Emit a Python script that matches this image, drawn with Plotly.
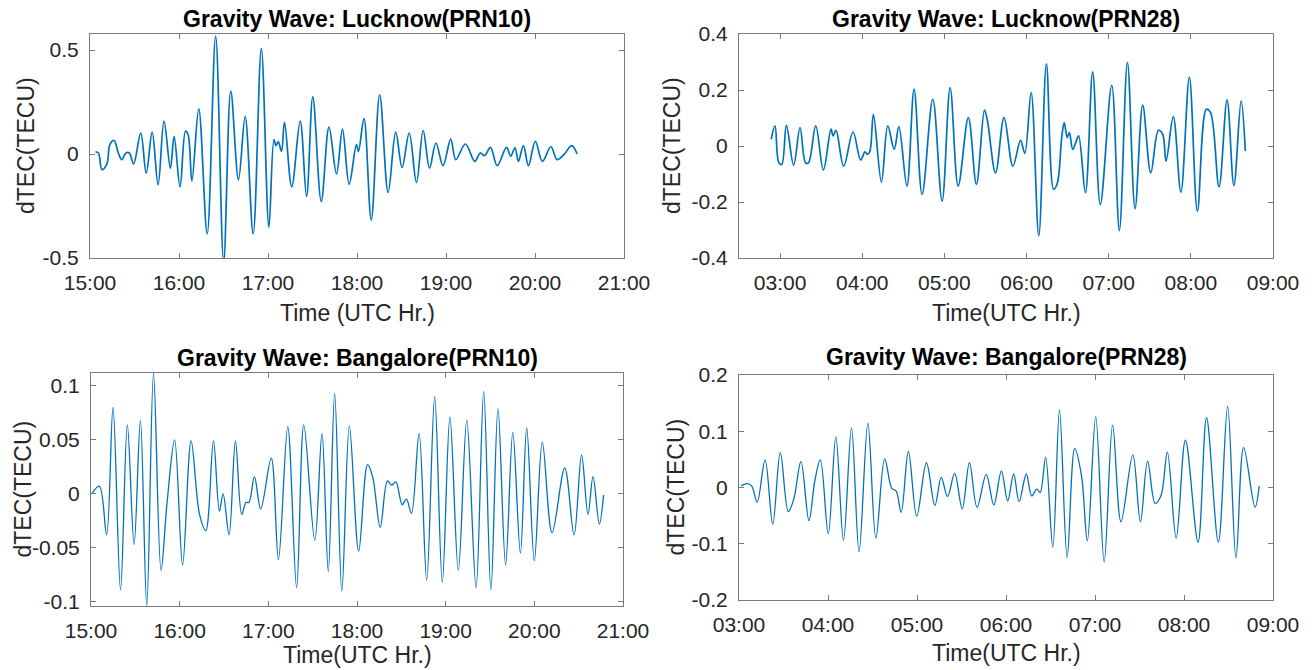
import plotly.graph_objects as go

W, H = 1312, 670

# ---------------- data ----------------
# Lucknow PRN10: minutes after 15:00 and dTEC
lk10_min = [3.7, 5.7, 8.0, 11.4, 13.4, 16.2, 19.1, 21.4, 24.2, 26.5,
            29.4, 34.2, 37.9, 41.9, 45.9, 49.9, 54.2, 56.7, 60.7, 64.4,
            66.1, 68.7, 73.3, 79.0, 84.7, 90.1, 94.9, 100.1, 104.6, 110.0,
            115.5, 120.6, 124.0, 125.4, 126.9, 129.1, 131.1, 136.0, 141.7, 146.0,
            150.2, 155.9, 161.1, 166.2, 170.2, 174.7, 179.6, 181.0, 184.7, 189.6,
            195.3, 201.0, 206.1, 210.4, 215.2, 220.1, 224.6, 228.9, 233.2, 238.0,
            243.2, 246.6, 253.1, 259.4, 263.1, 266.0, 270.0, 274.5, 280.8, 283.6,
            286.5, 288.8, 292.2, 295.6, 300.2, 305.0, 310.7, 315.0, 319.8, 324.7,
            328.4]
lk10_val = [0.01, 0.005, -0.075, -0.047, 0.045, 0.065, 0.005, -0.027, 0.005, 0.005,
            -0.048, 0.10, -0.092, 0.105, -0.148, 0.158, -0.068, 0.085, -0.158, 0.11,
            0.095, -0.13, 0.217, -0.384, 0.567, -0.518, 0.302, -0.124, 0.18, -0.384,
            0.508, -0.352, 0.069, 0.04, 0.06, 0.013, 0.154, -0.158, 0.158, -0.204,
            0.275, -0.228, 0.129, -0.096, 0.12, -0.145, 0.045, 0.013, 0.17, -0.317,
            0.285, -0.185, 0.105, -0.064, 0.101, -0.137, 0.113, -0.068, 0.053, -0.056,
            0.072, -0.027, 0.048, -0.035, 0.005, -0.008, 0.032, -0.056, 0.032, -0.01,
            0.03, -0.035, 0.04, -0.056, 0.061, -0.035, 0.035, -0.027, 0.0, 0.04,
            0.0]

# Lucknow PRN28: UTC hour and dTEC
lk28_hr = [2.892, 2.938, 2.985, 3.021, 3.077, 3.165, 3.243, 3.310, 3.346, 3.434,
           3.527, 3.620, 3.645, 3.681, 3.774, 3.888, 3.981, 4.033, 4.064, 4.094,
           4.136, 4.234, 4.311, 4.389, 4.446, 4.544, 4.631, 4.729, 4.859, 4.972,
           5.070, 5.168, 5.292, 5.390, 5.488, 5.524, 5.623, 5.726, 5.834, 5.927,
           5.979, 6.056, 6.149, 6.242, 6.330, 6.376, 6.428, 6.459, 6.495, 6.521,
           6.562, 6.598, 6.634, 6.717, 6.805, 6.898, 7.037, 7.130, 7.228, 7.321,
           7.414, 7.512, 7.605, 7.657, 7.698, 7.786, 7.879, 7.982, 8.080, 8.188,
           8.240, 8.343, 8.441, 8.524, 8.612, 8.663]
lk28_val = [0.024, 0.072, -0.06, -0.066, 0.074, -0.069, 0.066, -0.06, -0.06, 0.072,
            -0.086, 0.06, 0.036, 0.056, -0.072, 0.05, -0.05, -0.021, -0.030, -0.018,
            0.113, -0.129, 0.072, -0.012, 0.069, -0.143, 0.203, -0.173, 0.167, -0.197,
            0.209, -0.143, 0.101, -0.137, 0.128, 0.09, -0.096, 0.101, -0.072, 0.02,
            -0.026, 0.191, -0.32, 0.293, -0.155, -0.131, 0.030, 0.084, 0.030, 0.048,
            -0.012, 0.012, 0.036, -0.167, 0.265, -0.209, 0.217, -0.302, 0.299, -0.224,
            0.146, -0.096, 0.056, 0.042, -0.054, 0.105, -0.165, 0.245, -0.233, 0.131,
            0.119, -0.146, 0.165, -0.141, 0.161, -0.018]

# Bangalore PRN10: UTC hour and dTEC
bg10_hr = [15.010, 15.095, 15.176, 15.248, 15.333, 15.410, 15.486, 15.557, 15.629, 15.705,
           15.790, 15.857, 15.943, 16.033, 16.129, 16.224, 16.295, 16.381, 16.448, 16.490,
           16.557, 16.629, 16.700, 16.748, 16.781, 16.843, 16.914, 17.033, 17.114, 17.219,
           17.319, 17.400, 17.524, 17.605, 17.676, 17.748, 17.829, 17.914, 18.019, 18.119,
           18.176, 18.262, 18.343, 18.390, 18.438, 18.510, 18.557, 18.614, 18.700, 18.786,
           18.876, 18.962, 19.048, 19.143, 19.238, 19.343, 19.429, 19.510, 19.590, 19.676,
           19.757, 19.843, 19.914, 20.000, 20.090, 20.200, 20.343, 20.448, 20.533, 20.605,
           20.662, 20.733, 20.781]
bg10_val = [0, 0.007, -0.038, 0.080, -0.089, 0.064, -0.047, 0.068, -0.104, 0.112,
            -0.071, -0.009, 0.050, -0.066, 0.049, -0.019, -0.034, 0.049, -0.016, 0.0,
            -0.038, 0.049, -0.019, -0.008, -0.008, 0.016, -0.014, 0.033, -0.061, 0.062,
            -0.087, 0.064, -0.043, 0.056, -0.072, 0.093, -0.090, 0.063, -0.053, 0.027,
            0.016, -0.031, 0.012, 0.008, 0.011, -0.010, -0.005, -0.018, 0.056, -0.080,
            0.090, -0.082, 0.071, -0.071, 0.068, -0.087, 0.095, -0.089, 0.079, -0.066,
            0.057, -0.055, 0.061, -0.062, 0.048, -0.036, 0.024, -0.038, 0.036, -0.019,
            0.016, -0.028, -0.001]

# Bangalore PRN28: UTC hour and dTEC
bg28_hr = [3.024, 3.095, 3.142, 3.204, 3.293, 3.379, 3.464, 3.554, 3.615, 3.696,
           3.786, 3.852, 3.914, 4.003, 4.088, 4.174, 4.264, 4.349, 4.448, 4.538,
           4.637, 4.718, 4.765, 4.822, 4.903, 4.997, 5.106, 5.201, 5.272, 5.343,
           5.423, 5.508, 5.589, 5.674, 5.778, 5.863, 5.948, 6.019, 6.086, 6.147,
           6.228, 6.289, 6.346, 6.384, 6.445, 6.526, 6.601, 6.687, 6.772, 6.848,
           6.914, 7.008, 7.103, 7.198, 7.292, 7.425, 7.510, 7.591, 7.676, 7.742,
           7.813, 7.912, 8.016, 8.158, 8.253, 8.386, 8.490, 8.584, 8.670, 8.798,
           8.845]
bg28_val = [0.003, 0.007, 0.003, -0.026, 0.049, -0.065, 0.062, -0.043, -0.021, 0.046,
            -0.059, 0.012, 0.049, -0.082, 0.090, -0.094, 0.106, -0.114, 0.114, -0.090,
            0.051, -0.002, -0.006, -0.044, 0.064, -0.051, 0.044, -0.032, 0.018, -0.016,
            0.025, -0.038, 0.044, -0.035, 0.023, -0.031, 0.029, -0.024, 0.024, -0.025,
            0.024, -0.015, -0.003, -0.009, 0.054, -0.106, 0.138, -0.124, 0.069, 0.021,
            -0.095, 0.126, -0.132, 0.111, -0.061, 0.058, -0.061, 0.047, -0.028, -0.014,
            0.063, -0.090, 0.084, -0.097, 0.124, -0.097, 0.144, -0.125, 0.071, -0.035,
            0.003]

titles = ["Gravity Wave: Lucknow(PRN10)", "Gravity Wave: Lucknow(PRN28)",
          "Gravity Wave: Bangalore(PRN10)", "Gravity Wave: Bangalore(PRN28)"]
xlabels = ["Time (UTC Hr.)", "Time(UTC Hr.)", "Time(UTC Hr.)", "Time(UTC Hr.)"]
ylabel = "dTEC(TECU)"

eve_ticks = [15, 16, 17, 18, 19, 20, 21]
eve_labels = ["15:00", "16:00", "17:00", "18:00", "19:00", "20:00", "21:00"]
mor_ticks = [3, 4, 5, 6, 7, 8, 9]
mor_labels = ["03:00", "04:00", "05:00", "06:00", "07:00", "08:00", "09:00"]

lk10_yt = [-0.5, 0, 0.5]
lk10_yl = ["-0.5", "0", "0.5"]
lk28_yt = [-0.4, -0.2, 0, 0.2, 0.4]
lk28_yl = ["-0.4", "-0.2", "0", "0.2", "0.4"]
bg10_yt = [-0.1, -0.05, 0, 0.05, 0.1]
bg10_yl = ["-0.1", "-0.05", "0", "0.05", "0.1"]
bg28_yt = [-0.2, -0.1, 0, 0.1, 0.2]
bg28_yl = ["-0.2", "-0.1", "0", "0.1", "0.2"]

# ---------------- layout geometry (pixels) ----------------
boxes = [  # x0, x1, y0(top), y1(bottom)
    (90, 624, 34, 258),
    (739, 1273, 34, 258),
    (91, 623, 373, 606),
    (739, 1273, 375, 600),
]
xranges = [[15, 21], [2.5, 9], [15, 21], [3, 9]]
yranges = [[-0.5, 0.577], [-0.4, 0.4], [-0.104, 0.112], [-0.2, 0.2]]
title_y = [19, 19, 358, 357]
xlab_y = [313, 313, 655, 653]
ylab_x = [26, 672, 22, 675]

LINE = "#0072BD"
FONT = "Liberation Sans, Arial, Helvetica, sans-serif"
AX = "#7a7a7a"
TXT = "#262626"

fig = go.Figure()
series = [
    ([15 + m / 60 for m in lk10_min], lk10_val, 1.7),
    (lk28_hr, lk28_val, 1.7),
    (bg10_hr, bg10_val, 1.3),
    (bg28_hr, bg28_val, 1.3),
]
for i, (xs, ys, lw) in enumerate(series):
    sfx = "" if i == 0 else str(i + 1)
    fig.add_trace(go.Scatter(x=xs, y=ys, mode="lines",
                             line=dict(color=LINE, width=lw, shape="spline", smoothing=1.0),
                             xaxis="x" + sfx, yaxis="y" + sfx, showlegend=False,
                             hoverinfo="skip"))

xt = [(eve_ticks, eve_labels), (mor_ticks, mor_labels), (eve_ticks, eve_labels), (mor_ticks, mor_labels)]
yt = [(lk10_yt, lk10_yl), (lk28_yt, lk28_yl), (bg10_yt, bg10_yl), (bg28_yt, bg28_yl)]

layout = dict(width=W, height=H, autosize=False, margin=dict(l=0, r=0, t=0, b=0, pad=0),
              paper_bgcolor="white", plot_bgcolor="white", showlegend=False)
annotations = []
for i, (x0, x1, y0, y1) in enumerate(boxes):
    sfx = "" if i == 0 else str(i + 1)
    common = dict(showline=True, linecolor=AX, linewidth=1, mirror="ticks", ticks="inside",
                  ticklen=5, tickwidth=1, tickcolor=AX, showgrid=False, zeroline=False,
                  automargin=False,
                  tickfont=dict(family=FONT, size=21, color=TXT), fixedrange=True)
    layout["xaxis" + sfx] = dict(domain=[x0 / W, x1 / W], range=xranges[i], anchor="y" + sfx,
                                 tickmode="array", tickvals=xt[i][0], ticktext=xt[i][1],
                                 ticklabelstandoff=6, **common)
    layout["yaxis" + sfx] = dict(domain=[1 - y1 / H, 1 - y0 / H], range=yranges[i], anchor="x" + sfx,
                                 tickmode="array", tickvals=yt[i][0], ticktext=yt[i][1],
                                 ticklabelstandoff=6, **common)
    cx = (x0 + x1) / 2
    cy = (y0 + y1) / 2
    annotations.append(dict(text="<b>" + titles[i] + "</b>", x=cx / W, y=1 - title_y[i] / H,
                            xref="paper", yref="paper", xanchor="center", yanchor="middle",
                            showarrow=False, font=dict(family=FONT, size=23, color="#000000")))
    annotations.append(dict(text=xlabels[i], x=cx / W, y=1 - xlab_y[i] / H,
                            xref="paper", yref="paper", xanchor="center", yanchor="middle",
                            showarrow=False, font=dict(family=FONT, size=23, color=TXT)))
    annotations.append(dict(text=ylabel, x=ylab_x[i] / W, y=1 - cy / H, textangle=-90,
                            xref="paper", yref="paper", xanchor="center", yanchor="middle",
                            showarrow=False, font=dict(family=FONT, size=23, color=TXT)))
layout["annotations"] = annotations
fig.update_layout(**layout)
fig.write_html("out.html")
